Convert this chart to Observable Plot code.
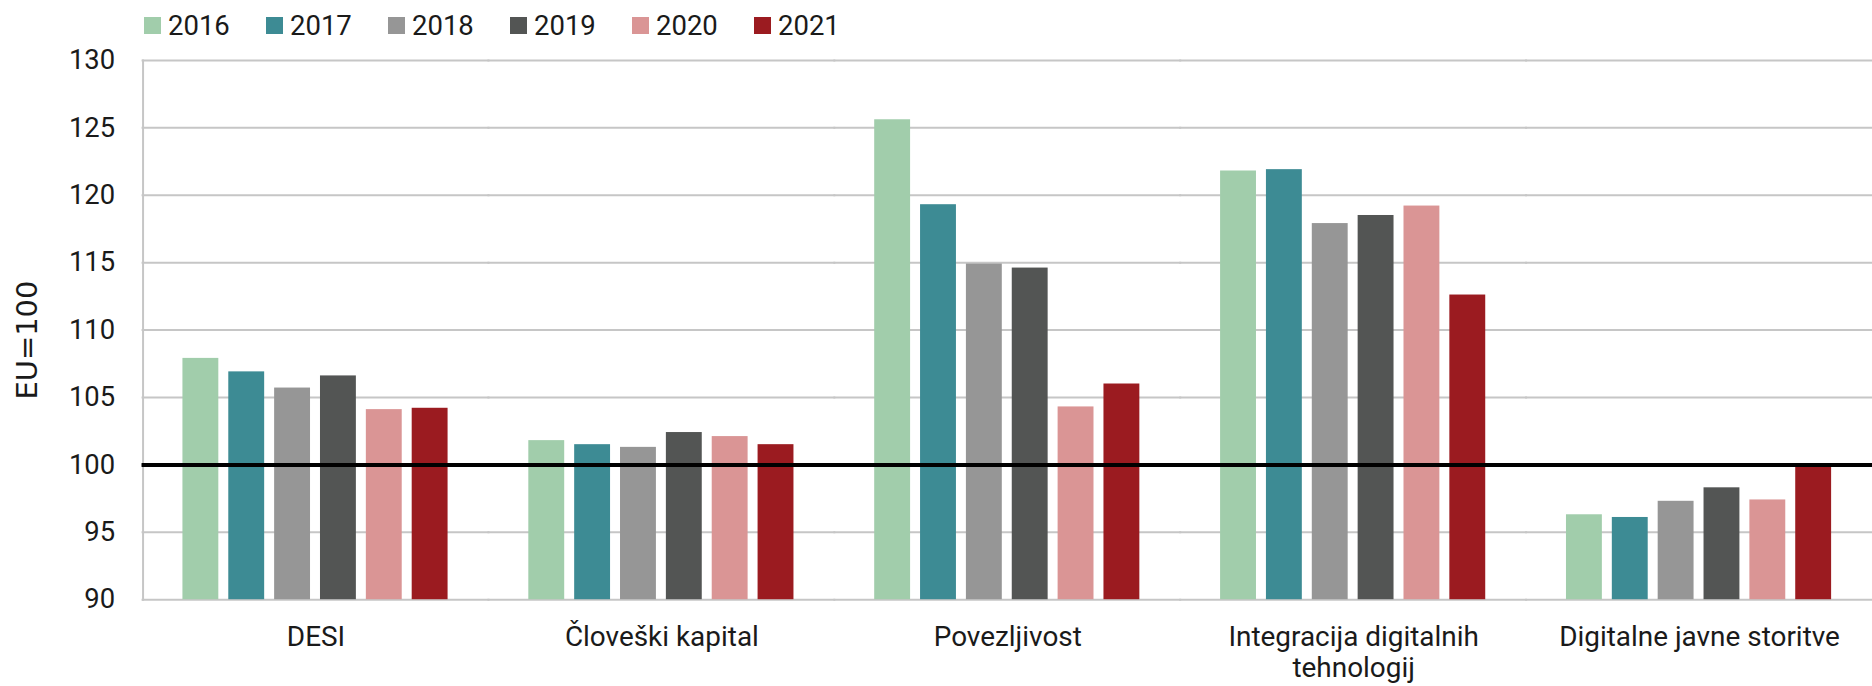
<!DOCTYPE html>
<html>
<head>
<meta charset="utf-8">
<script src="https://cdn.jsdelivr.net/npm/d3@7"></script>
<script src="https://cdn.jsdelivr.net/npm/@observablehq/plot@0.6"></script>
<style>
  html, body { margin: 0; padding: 0; background: #fff; overflow: hidden; width: 1872px; height: 686px; }
  #legend { height: 44px; box-sizing: border-box; padding-top: 6px; padding-left: 144px; display: flex; align-items: center; font-family: Roboto, sans-serif; font-size: 27.5px; color: #1a1a1a; }
  #legend .item { display: flex; align-items: center; width: 122px; }
  #legend .sw { width: 17px; height: 17px; margin-right: 7px; }
</style>
</head>
<body>
<div id="legend"></div>
<div id="chart"></div>
<script>
const years = ["2016", "2017", "2018", "2019", "2020", "2021"];
const colors = ["#a1cdab", "#3d8b94", "#969696", "#535554", "#da9595", "#9b1b20"];
const categories = ["DESI", "Človeški kapital", "Povezljivost", "Integracija digitalnih\ntehnologij", "Digitalne javne storitve"];
const desi = [107.9, 106.9, 105.7, 106.6, 104.1, 104.2];
const cloveskiKapital = [101.8, 101.5, 101.3, 102.4, 102.1, 101.5];
const povezljivost = [125.6, 119.3, 114.9, 114.6, 104.3, 106.0];
const integracija = [121.8, 121.9, 117.9, 118.5, 119.2, 112.6];
const javneStoritve = [96.3, 96.1, 97.3, 98.3, 97.4, 99.9];
const yTicks = [90, 95, 100, 105, 110, 115, 120, 125, 130];
const yLabel = "EU=100";
const reference = 100;

const series = [desi, cloveskiKapital, povezljivost, integracija, javneStoritve];
const data = categories.flatMap((c, i) => years.map((y, j) => ({category: c, year: y, value: series[i][j]})));

// legend
const legend = d3.select("#legend");
years.forEach((y, i) => {
  const it = legend.append("div").attr("class", "item");
  it.append("div").attr("class", "sw").style("background", colors[i]);
  it.append("span").text(y);
});

const yMin = d3.min(yTicks), yMax = d3.max(yTicks);
const grid = "#c6c6c6";

const chart = Plot.plot({
  width: 1878,
  height: 642,
  marginTop: 16,
  marginBottom: 85,
  marginLeft: 143,
  marginRight: 0,
  style: {fontFamily: "Roboto, sans-serif", fontSize: "28px", color: "#1a1a1a", background: "#fff"},
  fx: {domain: categories, padding: 0},
  x: {domain: years, paddingInner: 0.21, paddingOuter: 0.853, axis: null},
  y: {domain: [yMin, yMax]},
  color: {domain: years, range: colors},
  marks: [
    Plot.gridY({ticks: yTicks, stroke: grid, strokeWidth: 2, strokeOpacity: 1, insetLeft: -1, insetRight: -1}),
    Plot.frame({anchor: "left", facetAnchor: "left", stroke: grid, strokeWidth: 2}),
    Plot.barY(data, {fx: "category", x: "year", y1: yMin, y2: "value", fill: "year"}),
    Plot.ruleY([reference], {stroke: "#000", strokeWidth: 4, insetLeft: -1, insetRight: -1}),
    Plot.axisY({ticks: yTicks, tickSize: 0, tickPadding: 28, fontSize: 27.5, label: null}),
    Plot.axisFx({anchor: "bottom", tickSize: 0, tickPadding: 24, fontSize: 28, label: null, lineHeight: 1.12}),
    Plot.text([yLabel], {text: d => d, frameAnchor: "left", textAnchor: "middle", lineAnchor: "middle", rotate: -90, dx: -116, dy: 10, facetAnchor: "left", fontFamily: "DejaVu Sans", fontSize: 29, fill: "#1a1a1a"})
  ]
});
document.getElementById("chart").append(chart);
</script>
</body>
</html>
